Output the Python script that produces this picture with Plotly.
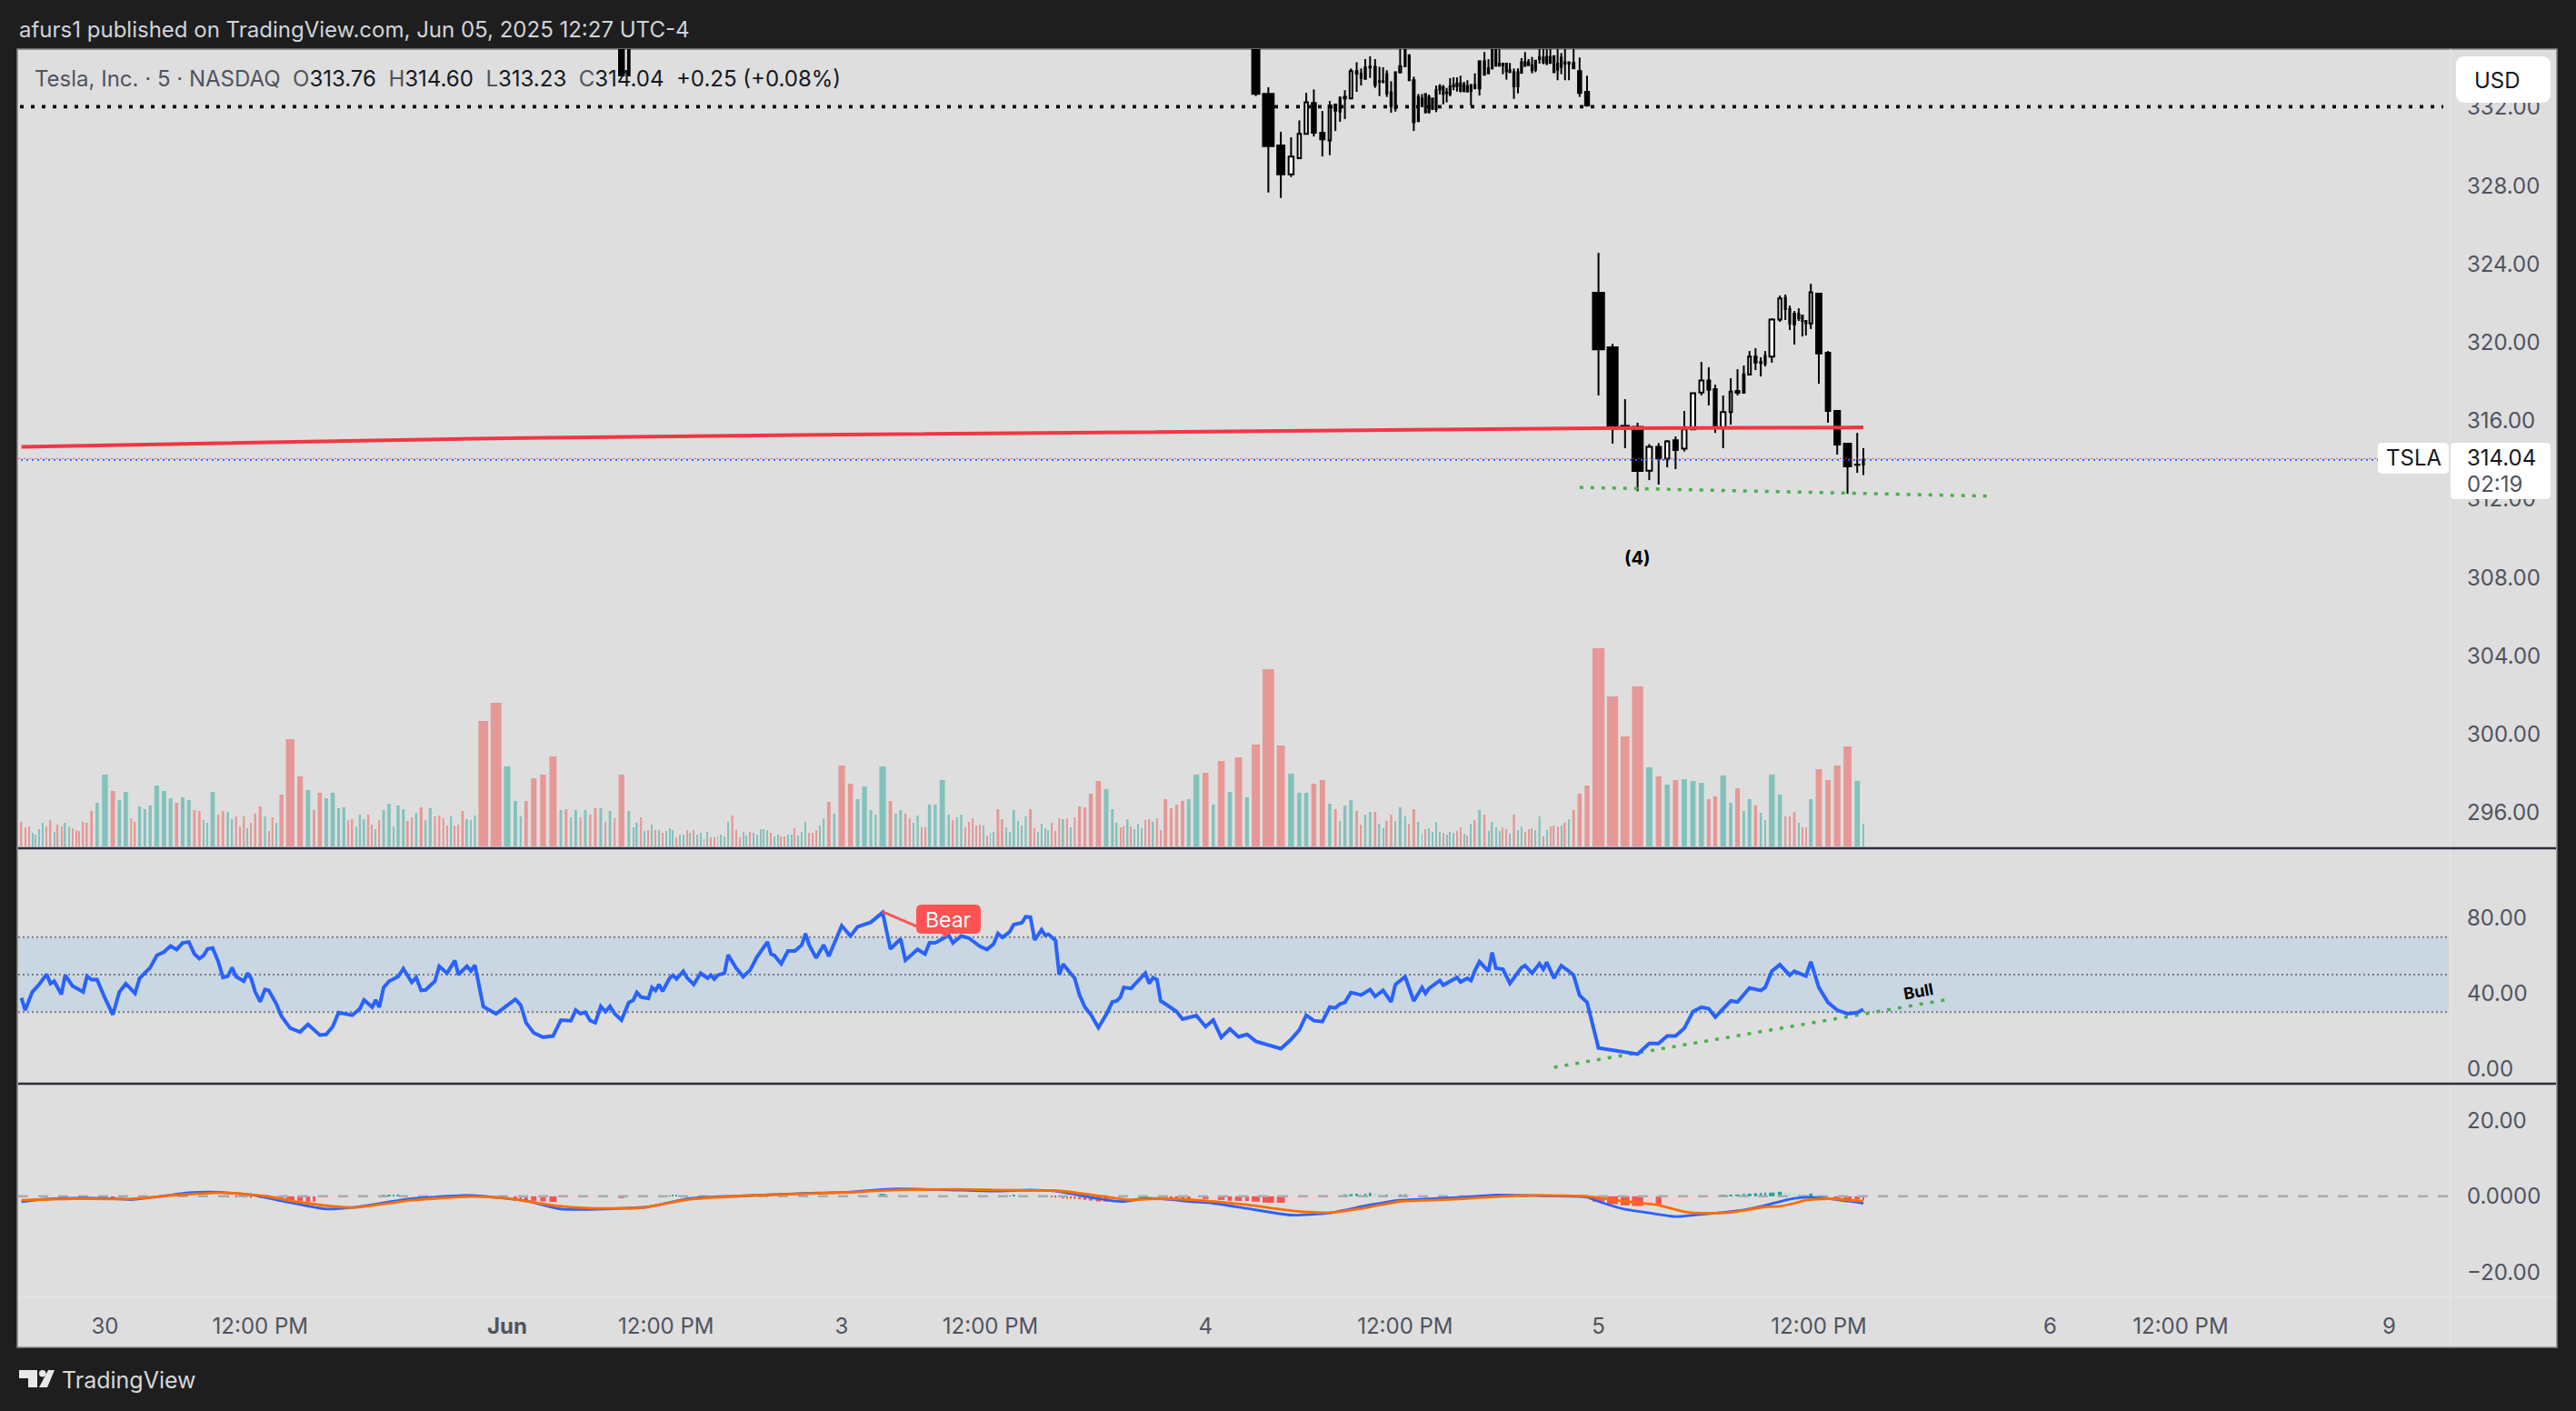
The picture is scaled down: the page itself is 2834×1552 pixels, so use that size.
import numpy as np
import plotly.graph_objects as go

W, H = 2834, 1552

# --- volume per 5 min bar, one list per session (height as read, up = 1 / down = 0) ---
may29_vol = [27, 21, 22, 15, 13, 19, 26, 22, 29, 16, 24, 22, 26, 22, 20, 18, 17, 27, 26, 39, 48]
may29_up = [0, 0, 0, 1, 1, 1, 1, 0, 0, 1, 0, 0, 1, 1, 0, 0, 0, 0, 0, 0, 1]

may30_vol = [79, 61, 51, 60, 31, 27, 44, 41, 45, 67,
             61, 53, 48, 54, 51, 40, 39, 29, 26, 60,
             35, 39, 38, 30, 33, 22, 33, 20, 26, 36,
             44, 33, 17, 32, 26, 57, 118, 77, 62, 40,
             59, 53, 59, 42, 43, 29, 30, 22, 35, 30,
             35, 24, 19, 29, 40, 47, 22, 45, 41, 28,
             32, 37, 43, 29, 42, 33, 34, 31, 23, 33,
             23, 24, 39, 30, 29, 34, 138, 158]
may30_up = [1, 0, 1, 1, 0, 0, 1, 1, 1, 1,
            1, 1, 0, 1, 1, 0, 0, 1, 1, 1,
            0, 0, 1, 1, 0, 0, 0, 1, 0, 0,
            0, 1, 0, 0, 1, 0, 0, 0, 1, 0,
            0, 1, 1, 1, 1, 0, 0, 1, 1, 1,
            0, 0, 1, 0, 1, 1, 1, 1, 1, 0,
            0, 1, 0, 1, 1, 0, 0, 0, 0, 1,
            0, 0, 0, 1, 1, 1, 0, 0]

jun2_vol = [88, 50, 33, 50, 75, 79, 99, 40, 41, 32,
            40, 32, 40, 35, 42, 42, 27, 39, 31, 79,
            39, 21, 26, 32, 17, 18, 24, 18, 18, 15,
            17, 20, 18, 10, 13, 13, 18, 15, 18, 13,
            15, 8, 16, 10, 10, 11, 13, 11, 27, 34,
            18, 10, 16, 12, 16, 15, 13, 19, 19, 18,
            15, 11, 13, 11, 11, 13, 13, 20, 12, 16,
            27, 15, 15, 18, 23, 31, 49, 36]
jun2_up = [1, 1, 1, 0, 0, 0, 0, 1, 0, 1,
           1, 0, 1, 0, 0, 1, 0, 1, 0, 0,
           1, 1, 1, 0, 1, 0, 1, 0, 1, 0,
           1, 1, 1, 0, 1, 1, 0, 1, 0, 1,
           1, 0, 1, 0, 0, 0, 1, 1, 1, 0,
           0, 0, 1, 1, 0, 1, 1, 1, 1, 1,
           0, 1, 1, 0, 0, 1, 1, 0, 1, 1,
           1, 0, 0, 0, 1, 1, 0, 1]

jun3_vol = [89, 69, 52, 66, 40, 35, 88, 50, 36, 40,
            36, 31, 26, 34, 21, 21, 46, 46, 73, 35,
            29, 32, 35, 21, 27, 31, 23, 24, 23, 12,
            15, 16, 41, 30, 21, 16, 40, 28, 23, 33,
            41, 20, 16, 25, 20, 18, 26, 17, 31, 30,
            31, 21, 32, 44, 43, 58, 72, 63, 41, 26,
            21, 22, 30, 22, 19, 25, 20, 29, 30, 27,
            31, 18, 52, 42, 46, 50, 52, 79]
jun3_up = [0, 0, 1, 1, 1, 1, 1, 0, 1, 1,
           0, 0, 1, 1, 0, 0, 1, 1, 1, 1,
           0, 1, 1, 0, 0, 0, 0, 0, 1, 0,
           1, 1, 0, 0, 1, 1, 1, 1, 1, 1,
           0, 0, 1, 1, 1, 1, 0, 0, 0, 1,
           0, 1, 0, 0, 0, 0, 0, 1, 1, 1,
           0, 0, 1, 0, 1, 1, 1, 0, 0, 1,
           0, 0, 0, 0, 0, 0, 1, 1]

jun4_vol = [81, 46, 94, 60, 98, 54, 112, 195, 111, 80,
            59, 59, 69, 73, 47, 41, 28, 45, 51, 39,
            24, 35, 38, 38, 25, 20, 28, 35, 28, 43,
            33, 25, 41, 27, 14, 19, 20, 16, 27, 16,
            15, 13, 16, 15, 17, 21, 14, 12, 25, 29,
            40, 35, 17, 27, 21, 17, 21, 19, 14, 35,
            18, 22, 16, 19, 20, 18, 33, 11, 18, 22,
            23, 22, 23, 26, 30, 40, 58, 67]
jun4_up = [0, 1, 0, 1, 0, 1, 0, 0, 0, 1,
           1, 1, 0, 0, 1, 0, 1, 1, 1, 0,
           0, 1, 1, 0, 1, 1, 0, 0, 1, 1,
           1, 0, 0, 1, 1, 0, 1, 1, 1, 1,
           0, 1, 1, 1, 0, 0, 1, 0, 1, 0,
           1, 0, 1, 1, 1, 1, 0, 0, 1, 0,
           1, 1, 0, 0, 0, 1, 1, 0, 1, 0,
           0, 0, 1, 0, 1, 0, 0, 0]

jun5_vol = [218, 165, 121, 176, 87, 77, 68, 73, 74, 72,
            70, 52, 55, 78, 48, 64, 39, 52, 45, 37,
            29, 79, 57, 33, 33, 38, 26, 21, 21, 52,
            85, 73, 89, 110, 72, 25]
jun5_up = [0, 0, 0, 0, 1, 0, 1, 0, 1, 1,
           1, 0, 0, 1, 1, 0, 1, 1, 0, 1,
           1, 1, 1, 0, 0, 0, 1, 0, 0, 1,
           0, 0, 0, 0, 1, 1]

# --- candles that are on screen, the rest sit above the top of the pane ---
jun2_open = [340.0, 333.62]
jun2_high = [341.0, 341.0]
jun2_low = [333.62, 333.62]
jun2_close = [333.62, 340.0]

jun4_open = [336.5, 332.68, 330.05, 328.58, 329.40, 330.64, 332.22, 330.70, 330.31, 332.14,
             332.48, 332.45, 332.45, 333.84, 333.72, 334.04, 334.07, 334.07, 333.30, 333.33,
             333.69, 332.76, 333.79, 333.79, 334.97, 334.66, 333.38, 332.53, 332.06, 332.68,
             332.53, 331.91, 332.88, 332.91, 333.02, 332.76, 332.68, 333.07, 333.22, 333.22,
             332.84, 333.07, 332.84, 333.14, 332.96, 334.35, 333.73, 333.98, 334.12, 334.12,
             334.23, 334.23, 333.79, 333.79, 333.07, 333.76, 334.30, 334.30, 334.15, 333.92,
             334.46, 334.54, 334.26, 334.57, 334.61, 334.23, 334.07, 334.30, 334.23, 334.26,
             333.84, 332.79]
jun4_close = [332.68, 330.02, 328.58, 329.48, 330.64, 332.26, 330.70, 330.36, 332.09, 331.83,
              331.78, 332.53, 333.84, 333.72, 333.50, 333.45, 334.03, 333.14, 333.33, 333.30,
              332.71, 332.06, 331.95, 334.10, 334.10, 333.38, 331.24, 331.29, 332.45, 331.75,
              331.75, 332.45, 331.91, 333.07, 332.68, 332.73, 333.07, 333.14, 333.07, 332.84,
              333.14, 332.80, 333.14, 332.99, 334.35, 333.66, 333.99, 334.97, 334.97, 334.23,
              334.15, 333.84, 333.89, 333.07, 333.79, 334.30, 334.12, 334.15, 333.89, 334.38,
              334.57, 334.30, 334.57, 334.26, 333.79, 333.92, 334.54, 334.23, 334.30, 333.99,
              332.73, 332.09]
jun4_high = [337.0, 333.02, 330.75, 330.47, 331.33, 332.74, 332.91, 331.81, 332.32, 332.19,
             332.56, 332.87, 333.98, 334.30, 333.98, 334.46, 334.60, 334.46, 334.07, 334.04,
             333.89, 333.33, 333.79, 335.15, 335.30, 334.69, 333.56, 332.68, 332.68, 332.68,
             332.65, 332.45, 333.11, 333.18, 333.14, 332.99, 333.49, 333.53, 333.53, 333.61,
             333.30, 333.38, 333.14, 333.73, 334.35, 334.82, 334.46, 335.20, 335.20, 335.10,
             334.23, 334.23, 334.26, 333.98, 333.98, 334.51, 334.82, 334.46, 334.57, 334.38,
             334.97, 334.97, 334.97, 334.97, 334.61, 334.97, 334.77, 334.97, 334.30, 334.97,
             334.54, 333.61]
jun4_low = [332.57, 327.65, 327.37, 328.44, 329.35, 330.64, 330.51, 329.49, 329.56, 330.79,
            331.26, 331.40, 332.45, 332.79, 333.11, 333.45, 333.50, 332.99, 332.57, 333.22,
            332.53, 331.72, 331.78, 333.73, 334.05, 333.35, 330.79, 331.26, 332.03, 331.69,
            331.69, 331.91, 331.75, 332.65, 332.15, 332.25, 332.56, 332.87, 332.80, 332.76,
            332.76, 332.80, 332.09, 332.91, 332.60, 333.66, 333.73, 333.95, 334.12, 334.12,
            333.69, 333.41, 333.79, 332.43, 332.71, 333.73, 334.07, 334.15, 333.73, 333.79,
            334.23, 334.20, 334.15, 334.23, 333.79, 333.38, 333.69, 333.38, 333.38, 333.99,
            332.53, 332.03]

jun5_open = [322.53, 319.75, 315.74, 315.69, 313.45, 314.67, 314.07, 315.01, 314.58, 315.56,
             317.44, 318.06, 317.61, 315.66, 316.44, 317.52, 317.43, 318.36, 319.27, 318.95,
             318.91, 319.27, 321.16, 322.28, 321.70, 321.46, 321.23, 321.37, 321.09, 320.97,
             322.49, 319.47, 316.50, 314.83, 313.76, 313.76]
jun5_close = [319.65, 315.69, 315.69, 313.44, 314.67, 314.07, 314.95, 314.50, 315.56, 317.41,
              318.06, 317.58, 315.66, 316.44, 317.49, 317.43, 318.37, 319.27, 318.97, 319.00,
              319.31, 321.17, 322.24, 321.70, 320.95, 320.92, 321.46, 321.09, 320.97, 322.56,
              319.44, 316.50, 314.78, 313.67, 313.75, 314.04]
jun5_high = [324.57, 319.93, 317.10, 315.90, 314.81, 314.86, 315.01, 315.20, 316.50, 317.41,
             319.00, 318.73, 317.84, 317.29, 318.17, 318.63, 318.82, 319.56, 319.70, 319.24,
             319.56, 321.23, 322.39, 322.44, 321.88, 321.60, 321.74, 321.37, 321.14, 322.99,
             322.53, 319.56, 316.50, 314.83, 315.38, 314.60]
jun5_low = [317.29, 314.83, 314.60, 312.40, 312.97, 312.74, 313.62, 313.53, 314.43, 315.56,
            317.29, 316.78, 315.38, 314.60, 315.80, 317.29, 317.43, 318.36, 318.59, 318.26,
            318.77, 318.96, 321.05, 321.14, 320.63, 319.89, 321.09, 320.30, 320.35, 320.68,
            317.89, 315.90, 314.27, 312.27, 313.34, 313.23]

# --- moving average and drawn levels on the price pane ---
ma_bars = [0, 21, 99, 177, 255, 333, 368]
ma_values = [314.67, 314.74, 315.11, 315.29, 315.46, 315.62, 315.66]
last_close = 314.04
dotted_level = 332.03
support_bars = [331, 397]
support_values = [312.60, 312.15]

# --- RSI, read at the turning points of the line ---
rsi_bars = [0, 1, 3, 5, 7, 8, 9, 11, 12, 14, 17, 18, 19, 20, 21, 22, 23, 24, 26, 27,
            29, 30, 31, 32, 33, 34, 35, 36, 37, 38, 39, 40, 41, 42, 43, 44, 45, 47, 48, 49,
            50, 51, 52, 53, 55, 56, 57, 58, 59, 61, 62, 63, 64, 67, 69, 70, 72, 73, 74, 75,
            76, 78, 79, 81, 82, 83, 84, 86, 87, 89, 91, 92, 94, 95, 96, 97, 98, 100, 101, 102,
            103, 104, 105, 106, 108, 109, 110, 111, 112, 113, 114, 115, 116, 117, 118, 119, 120, 121, 122, 124,
            125, 126, 127, 128, 130, 131, 132, 134, 135, 137, 139, 141, 142, 143, 144, 146, 147, 149, 151, 153,
            155, 158, 159, 160, 162, 164, 166, 168, 169, 170, 172, 174, 175, 177, 178, 179, 181, 183, 184, 186,
            187, 190, 192, 193, 194, 196, 197, 199, 201, 204, 206, 208, 209, 210, 212, 213, 215, 216, 217, 218,
            220, 221, 222, 224, 225, 226, 227, 229, 230, 231, 232, 233, 234, 235, 236, 237, 238, 240, 241, 242,
            244, 245, 246, 247, 248, 249, 251, 252, 254, 255, 256, 257, 258, 259, 260, 261, 262, 263, 264, 265,
            266, 267, 268, 269, 270, 271, 272, 273, 275, 277, 278, 280, 282, 283, 285, 287, 289, 290, 291, 294,
            295, 298, 299, 300, 302, 303, 304, 305, 307, 308, 309, 311, 313, 316, 317, 319, 321, 322, 323, 325,
            327, 329, 330, 331, 332, 333, 334, 335, 336, 337, 338, 339, 340, 341, 342, 343, 344, 345, 346, 347,
            348, 350, 352, 353, 354, 355, 357, 358, 361, 362, 363, 364, 365, 366, 367, 368]
rsi_values = [37.6, 31.1, 40.8, 44.8, 50.2, 45.3, 46.5, 39.5, 49.7, 44, 40.8, 49.2, 47.3, 47.3, 37.6, 28.7, 40.8, 45.2, 40, 48,
              53.7, 60.2, 62.1, 65.3, 63.4, 66.9, 67.4, 61, 58.5, 60.2, 63.7, 64.2, 56.9, 48.5, 49.2, 53.7, 48.9, 46.5, 50.8, 48,
              40.8, 35.6, 42.1, 41.6, 34.4, 27.9, 21.5, 19.5, 23.5, 17.9, 18.2, 22.3, 29.8, 28.4, 31.9, 36.5, 32.7, 36.5, 32.7, 43.2,
              46.5, 48.9, 53.2, 45.9, 48.5, 41.6, 41.9, 46.5, 54.5, 50.8, 57.5, 50, 54.5, 52, 55, 33, 29.2, 36.9, 33.8, 24.4,
              19, 16.7, 17.3, 25.8, 25.5, 31.1, 29.2, 30, 25.5, 24.4, 33.1, 30.3, 33.1, 29.2, 25.8, 35.2, 36.3, 40.5, 38.1, 37.3,
              43.2, 41.6, 44.8, 41.1, 48.1, 49.7, 47.7, 51.8, 48.5, 44.8, 50.8, 48.1, 49.7, 47.6, 49.7, 50.8, 60.5, 53.4, 48.9, 52.4,
              59.4, 67.4, 61, 60.2, 55.8, 62.6, 62.6, 65.8, 71.8, 65.8, 58.9, 65.8, 59.8, 76, 70.6, 75.5, 77.9, 83.1, 63.7, 69,
              57.7, 63.4, 61, 66.9, 66.9, 71, 66.9, 70.6, 69.5, 65, 63.4, 66.3, 71.9, 69.8, 72.7, 76.6, 77.6, 80.8, 80.6, 68.5,
              73.9, 71, 71.5, 68.2, 50, 55.6, 52.9, 48.1, 39.2, 32.7, 28.7, 21.8, 28.7, 35.5, 36, 38, 43.2, 42.7, 44.8, 46.9,
              50.8, 45.3, 48.4, 47.3, 36, 34.4, 30.3, 26.3, 28.2, 22.3, 25.8, 16.6, 21.1, 16.9, 18.2, 14.5, 12.6, 10.6, 15.5, 20.6,
              28.4, 25.5, 25, 32.7, 32.3, 34.4, 35.2, 40.5, 39.2, 42.1, 38.4, 41.6, 35.5, 44.8, 48.9, 36, 43.2, 40, 42.7, 46.9,
              44.4, 47.6, 48.5, 46.1, 48.1, 46.9, 52.1, 56.9, 51.8, 61.8, 53.4, 52.9, 45.3, 53.7, 54.8, 50.8, 55.8, 52.9, 56.6, 48.1,
              54.8, 51.8, 49.7, 38.9, 35.2, 11, 9.7, 8.7, 7.7, 13.4, 13.4, 17.4, 17.4, 21.5, 30.3, 32.7, 31.9, 27.4, 31.5, 36,
              35.5, 42.9, 41.6, 43.2, 51.8, 55.3, 49.7, 51.8, 49.2, 56.9, 43.2, 35.2, 31.1, 29.2, 29.8, 31.5]
bear_bars = [183, 190]
bear_values = [83.5, 75.5]
bull_bars = [325, 387]
bull_values = [0.7, 36.6]

# --- MACD ---
macd_bars = [0, 5, 14, 21, 25, 30, 35, 40, 49, 56, 62, 67, 81, 95, 102, 106, 118, 124, 136, 150, 167, 178, 184, 195,
             208, 217, 224, 231, 235, 238, 243, 248, 253, 256, 260, 264, 269, 277, 284, 292, 301, 309, 321, 332,
             333, 334, 335, 337, 340, 342, 346, 349, 353, 356, 358, 362, 365, 368]
macd_values = [-1.44, -0.88, -0.48, -0.56, -0.88, -0.16, 0.96, 1.12, 0.4, -1.2, -3.36, -2.96, -0.64, 0.24, -1.2, -3.36, -3.2, -2.8, -0.56, 0.08, 0.72, 1.12, 1.92, 1.76,
               1.36, 1.68, 1.36, 0.0, -1.2, -1.36, -0.64, -0.64, -1.36, -1.84, -3.2, -4.96, -4.4, -2.24, -1.04, -0.64, -0.24, 0.32, 0.16, -0.24,
               -1.36, -2.56, -3.44, -4.4, -5.36, -4.96, -4.24, -3.6, -2.4, -1.04, -0.56, -0.24, -0.88, -1.84]
signal_bars = [0, 14, 24, 35, 42, 52, 58, 67, 81, 95, 99, 105, 112, 122, 136, 150, 167, 178, 184, 198,
               208, 217, 224, 231, 235, 240, 248, 255, 260, 264, 267, 269, 277, 284, 292, 301, 311, 321, 332,
               335, 338, 341, 344, 348, 353, 355, 358, 361, 364, 368]
signal_values = [-1.04, -0.64, -0.72, 0.56, 0.96, 0.08, -1.6, -2.96, -1.04, -0.08, -0.56, -2.4, -3.12, -3.04, -0.8, 0.08, 0.64, 1.04, 1.6, 1.84,
                 1.68, 1.52, 1.52, 0.64, -0.4, -0.96, -0.64, -1.2, -2.24, -3.76, -4.24, -4.32, -2.8, -1.36, -1.04, -0.64, 0.0, 0.24, 0.0,
                 -1.36, -2.32, -4.08, -4.48, -4.0, -2.8, -2.64, -1.84, -1.04, -0.64, -1.28]
hist_bars = [22, 23, 43, 45, 47, 49, 51, 53, 55, 56, 57, 58, 59, 60, 61, 62, 63, 64, 65, 66,
             75, 76, 77, 78, 79, 98, 100, 101, 102, 103, 104, 105, 106, 107, 108, 109, 110, 111, 112, 113, 114, 118,
             130, 131, 132, 133, 134, 183, 212, 213,
             223, 224, 226, 227, 228, 229, 230, 231, 232, 233, 234, 235, 236, 237, 238,
             250, 251, 252, 253, 254, 255, 256, 257, 258, 259, 260, 261, 262, 263, 264, 265, 266, 267, 268, 269, 270,
             272, 273, 274, 275, 276, 277, 278, 279, 281, 282, 283, 284, 285, 286, 287,
             333, 334, 335, 336, 337, 338, 339, 340, 341, 342, 343, 344, 345, 346, 347, 348, 349, 350, 351, 352,
             353, 354, 355, 356, 357, 358, 359, 360, 361, 362, 363, 364, 365, 366, 367, 368]
hist_values = [-0.7, -0.6, -0.3, -0.3, -0.35, -0.4, -0.45, -0.5, -0.6, -0.8, -1.0, -1.2, -1.44, -1.44, -1.3, -1.0, -0.9, -0.8, -0.6, -0.4,
               0.24, 0.32, 0.4, 0.48, 0.4, -0.6, -0.7, -0.8, -1.0, -1.2, -1.36, -1.52, -1.1, -0.9, -0.8, -0.7, -0.6, -0.5, -0.4, -0.3, -0.2, -0.48,
               0.2, 0.3, 0.4, 0.3, 0.2, 0.64, 0.2, 0.25,
               -0.24, -0.32, -0.56, -0.64, -0.66, -0.72, -0.74, -0.96, -1.12, -1.36, -1.38, -1.0, -0.8, -0.6, -0.3,
               -0.56, -0.6, -0.62, -0.64, -0.6, -0.72, -0.7, -0.96, -1.2, -1.22, -1.24, -1.44, -1.68, -1.7, -1.6, -1.4, -0.96, -0.94, -0.6, -0.5, -0.1,
               0.5, 0.55, 0.7, 0.6, 0.7, 0.96, 0.7, 0.6, 0.5, 0.45, 0.4, 0.5, 0.55, 0.3, 0.2,
               -1.44, -2.08, -2.4, -2.56, -2.08, -2.3, -2.0, -1.84, -1.44, -1.04, -0.56, -0.4, -0.24, 0.24, 0.26, 0.48, 0.64, 0.72, 0.8, 0.88,
               0.96, 0.98, 1.2, 1.04, 0.96, 0.9, 0.8, 0.7, 0.6, 0.72, 0.4, 0.16, -0.48, -0.8, -0.82, -1.04]

# --- axis labels: bar number of each label, counted from the first bar on screen ---
x_tick_bars = [21, 51, 99, 129, 177, 207, 255, 285, 333, 363, 411, 441, 489]
x_tick_text = ["30", "12:00 PM", "<b>Jun</b>", "12:00 PM", "3", "12:00 PM", "4", "12:00 PM",
               "5", "12:00 PM", "6", "12:00 PM", "9"]
macd_ticks = [20, 0, -20]
macd_tick_text = ["20.00", "0.0000", "\u221220.00"]

volume = np.array(may29_vol + may30_vol + jun2_vol + jun3_vol + jun4_vol + jun5_vol, dtype=float)
is_up = np.array(may29_up + may30_up + jun2_up + jun3_up + jun4_up + jun5_up, dtype=bool)

# volume candles: the slot of each bar grows with its volume, so the time axis is uneven
slot = np.interp(volume, [8, 20, 30, 40, 50, 59, 71, 79, 99, 118, 138, 158, 195, 218],
                 [3.7, 3.9, 4.5, 5.8, 7.0, 7.7, 9.5, 10.5, 11.5, 12.7, 14.5, 15.0, 15.5, 16.5])
bar_w = np.interp(volume, [5, 20, 30, 46, 79, 118, 158, 218],
                  [0.8, 1.0, 1.9, 3.5, 6.4, 9.5, 12.0, 13.3])
raw_x = np.concatenate([[0], np.cumsum((slot[:-1] + slot[1:]) / 2)])

# session opens are pinned to where the chart has them, the slots share out the rest
session_bars = [0, 21, 99, 177, 255, 333, 368]
session_x = [23.6, 115.4, 558.0, 926.0, 1326.3, 1758.6, 2050.0]
bar_x = np.interp(raw_x, raw_x[session_bars], session_x)
FUTURE_SLOT = 4.78
last_bar = len(bar_x) - 1


def pos(bars):
    # bars past the last one are empty future slots of even width
    out = []
    for b in bars:
        if b <= last_bar:
            out.append(bar_x[b])
        else:
            out.append(bar_x[-1] + (b - last_bar) * FUTURE_SLOT)
    return out


def px(x):
    return x / W


def py(y):
    return 1 - y / H


def round_box(x0, y0, x1, y1, r=8, color="#ffffff", layer="above"):
    path = (f"M {px(x0 + r)},{py(y0)} L {px(x1 - r)},{py(y0)} Q {px(x1)},{py(y0)} {px(x1)},{py(y0 + r)} "
            f"L {px(x1)},{py(y1 - r)} Q {px(x1)},{py(y1)} {px(x1 - r)},{py(y1)} "
            f"L {px(x0 + r)},{py(y1)} Q {px(x0)},{py(y1)} {px(x0)},{py(y1 - r)} "
            f"L {px(x0)},{py(y0 + r)} Q {px(x0)},{py(y0)} {px(x0 + r)},{py(y0)} Z")
    return dict(type="path", xref="paper", yref="paper", path=path, fillcolor=color,
                line=dict(width=0), layer=layer)


def poly(points, color):
    path = "M " + " L ".join(f"{px(a)},{py(b)}" for a, b in points) + " Z"
    return dict(type="path", xref="paper", yref="paper", path=path, fillcolor=color,
                line=dict(width=0), layer="above")


def label(x, y, text, size=24, color="#131722", anchor="left", **kw):
    return dict(xref="paper", yref="paper", x=px(x), y=py(y), text=text, showarrow=False,
                xanchor=anchor, yanchor="middle", font=dict(family="Inter", size=size, color=color),
                borderpad=0, **kw)


RED_VOL, GREEN_VOL = "#e69897", "#82c2bc"
BLUE, ORANGE = "#2962ff", "#ff6d00"
X_LEFT, X_RIGHT = 20, 2694

fig = go.Figure()

# volume
fig.add_trace(go.Bar(x=bar_x, y=volume, width=bar_w, yaxis="y2",
                     marker=dict(color=[GREEN_VOL if u else RED_VOL for u in is_up], line=dict(width=0))))

# candles, bodies as bars so that each one can take the width of its volume
candle_bars = [118, 119] + list(range(261, 369))
opens = np.array(jun2_open + jun4_open + jun5_open)
closes = np.array(jun2_close + jun4_close + jun5_close)
highs = np.array(jun2_high + jun4_high + jun5_high)
lows = np.array(jun2_low + jun4_low + jun5_low)
body_top = np.maximum(opens, closes)
body_low = np.minimum(opens, closes)

wick_x, wick_y = [], []
for b, h, l, t, d in zip(candle_bars, highs, lows, body_top, body_low):
    wick_x += [bar_x[b], bar_x[b], None, bar_x[b], bar_x[b], None]
    wick_y += [h, t, None, d, l, None]
fig.add_trace(go.Scatter(x=wick_x, y=wick_y, mode="lines", line=dict(color="#000000", width=2)))
fig.add_trace(go.Bar(x=bar_x[candle_bars], y=body_top - body_low, base=body_low,
                     width=np.maximum(bar_w[candle_bars] - 1, 1.2),
                     marker=dict(color=["#ffffff" if c > o else "#000000" for o, c in zip(opens, closes)],
                                 line=dict(color="#000000", width=2))))

fig.add_trace(go.Scatter(x=bar_x[ma_bars], y=ma_values, mode="lines", line=dict(color="#f23645", width=4)))
fig.add_trace(go.Scatter(x=pos(support_bars), y=support_values, mode="lines",
                         line=dict(color="#4caf50", width=3.5, dash="4px,8px")))

# RSI
fig.add_trace(go.Scatter(x=pos(bull_bars), y=bull_values, yaxis="y3", mode="lines",
                         line=dict(color="#4caf50", width=3.5, dash="4px,8px")))
fig.add_trace(go.Scatter(x=bar_x[rsi_bars], y=rsi_values, yaxis="y3", mode="lines",
                         line=dict(color=BLUE, width=4)))
fig.add_trace(go.Scatter(x=bar_x[bear_bars], y=bear_values, yaxis="y3", mode="lines",
                         line=dict(color="#ff5252", width=3)))

# MACD, dark bars where the histogram moves away from zero, pale where it comes back
hist_colors = []
for i, v in enumerate(hist_values):
    prev = hist_values[i - 1] if i and hist_bars[i - 1] == hist_bars[i] - 1 else 0
    if v >= 0:
        hist_colors.append("#26a69a" if v >= prev else "#b2dfdb")
    else:
        hist_colors.append("#ff5252" if v <= prev else "#ffcdd2")
fig.add_trace(go.Bar(x=bar_x[hist_bars], y=hist_values, width=bar_w[hist_bars], yaxis="y4",
                     marker=dict(color=hist_colors, line=dict(width=0))))
fig.add_trace(go.Scatter(x=[X_LEFT, X_RIGHT], y=[0, 0], yaxis="y4", mode="lines",
                         line=dict(color="#a9abb2", width=2.5, dash="11px,11px")))
fig.add_trace(go.Scatter(x=bar_x[macd_bars], y=macd_values, yaxis="y4", mode="lines",
                         line=dict(color=BLUE, width=2.8, shape="spline", smoothing=0.6)))
fig.add_trace(go.Scatter(x=bar_x[signal_bars], y=signal_values, yaxis="y4", mode="lines",
                         line=dict(color=ORANGE, width=2.8, shape="spline", smoothing=0.6)))

tick_font = dict(family="Inter", size=24, color="#50535e")
y_common = dict(side="right", anchor="x", showgrid=False, zeroline=False, showline=False, ticks="",
                ticklabelstandoff=19, tickfont=tick_font)

shapes = [
    dict(type="rect", xref="paper", yref="paper", x0=px(19), x1=px(2813), y0=py(54), y1=py(1482),
         fillcolor="#dedede", line=dict(color="#858585", width=1.5), layer="below"),
    dict(type="rect", xref="paper", yref="y3", x0=px(X_LEFT), x1=px(X_RIGHT), y0=30, y1=70,
         fillcolor="#cad7e2", line=dict(width=0), layer="below"),
    dict(type="line", xref="paper", yref="paper", x0=px(X_RIGHT + 2), x1=px(X_RIGHT + 2), y0=py(54), y1=py(1481),
         line=dict(color="#e4e4e4", width=1.5), layer="below"),
    dict(type="line", xref="paper", yref="paper", x0=px(20), x1=px(2812), y0=py(1427), y1=py(1427),
         line=dict(color="#e4e4e4", width=1.5), layer="below"),
]
for level in [70, 50, 30]:
    shapes.append(dict(type="line", xref="paper", yref="y3", x0=px(X_LEFT), x1=px(X_RIGHT), y0=level, y1=level,
                       line=dict(color="#787b86", width=2, dash="2px,3px"), layer="below"))
for sep in [933, 1192]:
    shapes.append(dict(type="line", xref="paper", yref="paper", x0=px(20), x1=px(2812), y0=py(sep), y1=py(sep),
                       line=dict(color="#2a2e39", width=2.5), layer="above"))
# last price line and the dotted level
shapes += [
    dict(type="line", xref="paper", yref="y", x0=px(22), x1=px(2688), y0=dotted_level, y1=dotted_level,
         line=dict(color="#000000", width=3.6, dash="4px,8px"), layer="above"),
    dict(type="line", xref="paper", yref="y", x0=px(X_LEFT), x1=px(2616), y0=last_close + 0.03, y1=last_close + 0.03,
         line=dict(color="#f23645", width=0.8, dash="2px,4px"), layer="above"),
    dict(type="line", xref="paper", yref="y", x0=px(X_LEFT + 3), x1=px(2616), y0=last_close - 0.03, y1=last_close - 0.03,
         line=dict(color="#2962ff", width=2, dash="2px,4px"), layer="above"),
]
shapes += [
    round_box(2702, 62, 2806, 113, r=10),
    round_box(2616, 487, 2694, 521, r=5),
    round_box(2696, 487, 2806, 549, r=5),
    round_box(1008, 995, 1079, 1027, r=6, color="#ff5252"),
    poly([(1034, 1026), (1046, 1026), (1040, 1031)], "#ff5252"),
    # TradingView mark
    poly([(21, 1507), (41, 1507), (41, 1526), (31, 1526), (31, 1516), (21, 1516)], "#e8e8e8"),
    poly([(53, 1507), (60, 1507), (52, 1526), (43, 1526)], "#e8e8e8"),
    dict(type="circle", xref="paper", yref="paper", x0=px(43), x1=px(50.5), y0=py(1507), y1=py(1514.5),
         fillcolor="#e8e8e8", line=dict(width=0), layer="above"),
]

grey = "#50535e"
val = "#131722"
nb = "\u00a0"
legend_text = (f"<span style='color:{grey}'>Tesla, Inc. \u00b7 5 \u00b7 NASDAQ{nb}{nb}O</span>313.76{nb}{nb}"
               f"<span style='color:{grey}'>H</span>314.60{nb}{nb}<span style='color:{grey}'>L</span>313.23{nb}{nb}"
               f"<span style='color:{grey}'>C</span>314.04{nb}{nb}+0.25 (+0.08%)")
annotations = [
    label(20, 32, "afurs1 published on TradingView.com, Jun 05, 2025 12:27 UTC-4", size=24, color="#d1d4dc"),
    label(37, 86, legend_text, size=24, color=val),
    label(2721, 88, "USD", size=24),
    label(2655, 504, "TSLA", size=24, anchor="center"),
    label(2713, 504, "314.04", size=24),
    label(2713, 532, "02:19", size=24, color="#50535e"),
    label(1043.5, 1012, "Bear", size=23, color="#ffffff", anchor="center"),
    label(1801, 614, "<b>(4)</b>", size=20, color="#000000", anchor="center"),
    label(2110, 1090, "<b>Bull</b>", size=18, color="#000000", anchor="center", textangle=-10),
    label(67, 1518, "TradingView", size=25, color="#d8d8d8"),
]

fig.update_layout(
    width=W, height=H, margin=dict(l=0, r=0, t=0, b=0), autosize=False,
    paper_bgcolor="#1e1e1e", plot_bgcolor="rgba(0,0,0,0)",
    showlegend=False, barmode="overlay", hovermode=False,
    shapes=shapes, annotations=annotations,
    xaxis=dict(domain=[px(X_LEFT), px(X_RIGHT)], range=[X_LEFT, X_RIGHT], anchor="y4", showgrid=False,
               zeroline=False, showline=False, ticks="", tickmode="array", tickvals=pos(x_tick_bars),
               ticktext=x_tick_text, tickfont=tick_font, ticklabelstandoff=14),
    yaxis=dict(domain=[py(933), py(54)], range=[294.18, 334.97], tickmode="linear", tick0=296, dtick=4,
               tickformat=".2f", **y_common),
    yaxis2=dict(domain=[py(933), py(54)], range=[-2, 877], overlaying="y", visible=False, anchor="x"),
    yaxis3=dict(domain=[py(1192), py(934)], range=[-8.05, 116.8], tickmode="array", tickvals=[80, 40, 0],
                ticktext=["80.00", "40.00", "0.00"], **y_common),
    yaxis4=dict(domain=[py(1428), py(1192)], range=[-26.9, 29.7], tickmode="array", tickvals=macd_ticks,
                ticktext=macd_tick_text, **y_common),
)

fig.write_html("out.html", config={"displayModeBar": False},
               post_script="document.body.style.margin='0';document.body.style.overflow='hidden';")
